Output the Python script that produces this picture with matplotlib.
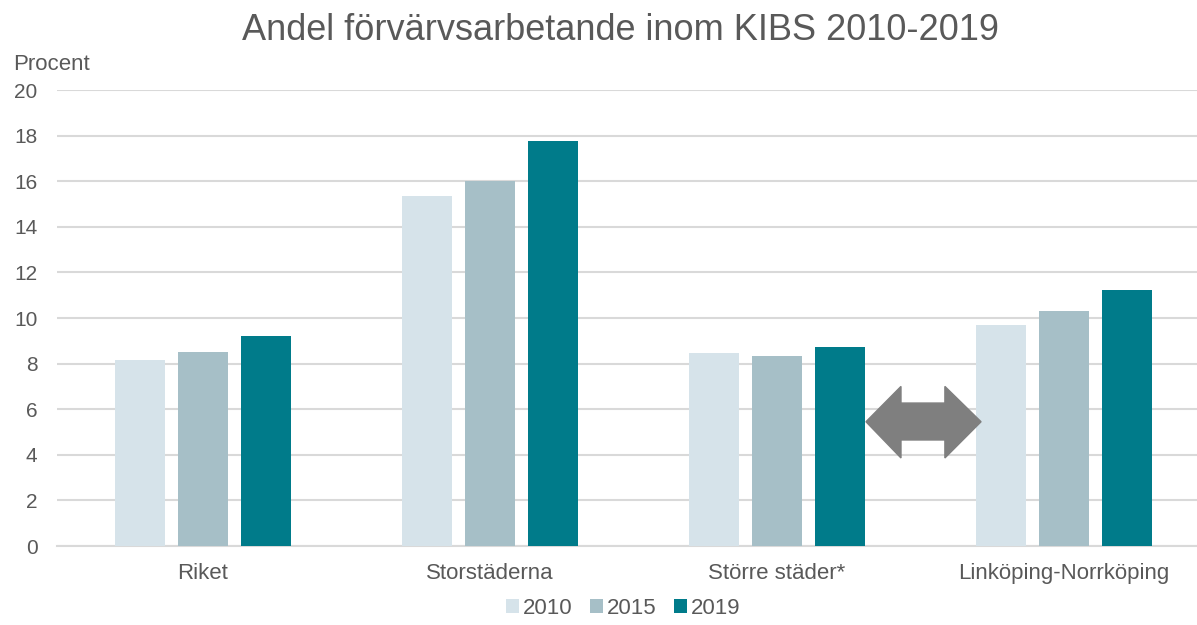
import numpy as np
import matplotlib.pyplot as plt
from matplotlib.patches import Polygon

plt.rcParams['font.family'] = ['Liberation Sans', 'DejaVu Sans']

kategorier = ['Riket', 'Storstäderna', 'Större städer*', 'Linköping-Norrköping']
ar = ['2010', '2015', '2019']
v2010 = [8.15, 15.35, 8.45, 9.7]
v2015 = [8.5, 16.0, 8.35, 10.3]
v2019 = [9.2, 17.75, 8.75, 11.25]
farger = ['#d6e3ea', '#a6bfc7', '#007b8a']
yticks = [0, 2, 4, 6, 8, 10, 12, 14, 16, 18, 20]

textfarg = '#595959'
fig = plt.figure(figsize=(11.97, 6.25), dpi=100)
ax = fig.add_axes([57/1197, 1-546/625, 1-57/1197, (546-90)/625])

x = np.arange(len(kategorier))
bredd = 0.174
steg = 0.221
for i, (serie, farg) in enumerate(zip([v2010, v2015, v2019], farger)):
    ax.bar(x + (i-1)*steg, serie, width=bredd, color=farg, label=ar[i], zorder=3)

# dubbelpil mellan Större städer och Linköping-Norrköping
pil = [(2.310, 5.45), (2.432, 7.0), (2.432, 6.27), (2.585, 6.27), (2.585, 7.0),
       (2.711, 5.45), (2.585, 3.86), (2.585, 4.65), (2.432, 4.65), (2.432, 3.86)]
ax.add_patch(Polygon(pil, closed=True, color='#7f7f7f', zorder=4))

ax.set_xlim((57-203)/287, (1197-203)/287)
ax.set_ylim(0, 20)
ax.set_yticks(yticks)
ax.set_xticks(x)
ax.set_xticklabels(kategorier)
ax.yaxis.grid(True, color='#d9d9d9', linewidth=1.5, zorder=0)
ax.tick_params(axis='both', length=0, colors=textfarg)
ax.tick_params(axis='y', pad=14, labelsize=15)
ax.tick_params(axis='x', pad=12, labelsize=16)
for s in ['top', 'right', 'left']:
    ax.spines[s].set_visible(False)
ax.spines['bottom'].set_color('#d9d9d9')
ax.spines['bottom'].set_linewidth(1.5)

fig.text(621/1197, 1-40/625, 'Andel förvärvsarbetande inom KIBS 2010-2019',
         ha='center', va='baseline', fontsize=26, color=textfarg)
fig.text(13/1197, 1-70/625, 'Procent', ha='left', va='baseline', fontsize=16, color=textfarg)

fig.legend(loc='center', bbox_to_anchor=(623/1197, 1-608/625), ncol=3, frameon=False,
           fontsize=16, handlelength=0.6, handleheight=0.6, handletextpad=0.15,
           columnspacing=0.8, labelcolor=textfarg)

plt.savefig('out.png', dpi=100)
plt.close()
